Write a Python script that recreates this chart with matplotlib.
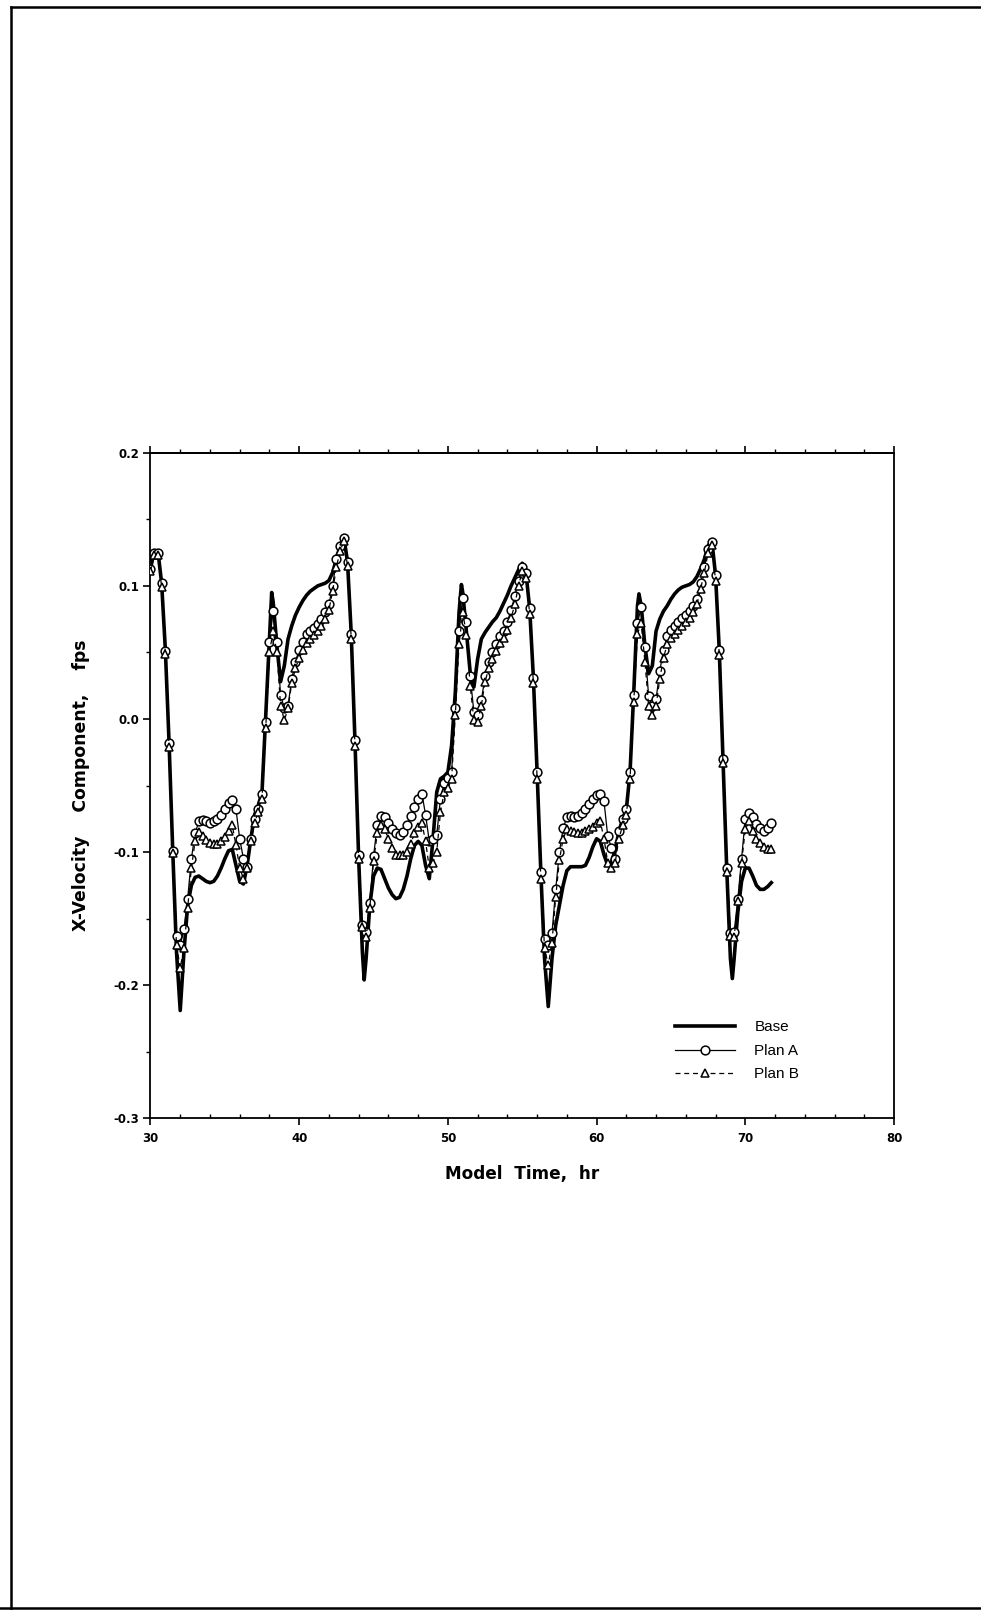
import numpy as np
import matplotlib
matplotlib.use("Agg")
import matplotlib.pyplot as plt
from matplotlib.lines import Line2D
from matplotlib.ticker import MultipleLocator

plt.rcParams['font.family'] = ['Liberation Sans', 'DejaVu Sans']

# model time, hr (one value every 15 min)
t = np.arange(30.0, 71.76, 0.25)

# X-velocity, fps, 8 values per 2 hr row
base = [
    0.113, 0.126, 0.126, 0.102, 0.052, -0.018, -0.100, -0.175,
    -0.219, -0.175, -0.140, -0.125, -0.119, -0.118, -0.120, -0.122,
    -0.123, -0.122, -0.118, -0.112, -0.105, -0.099, -0.098, -0.110,
    -0.122, -0.124, -0.110, -0.090, -0.072, -0.065, -0.055, 0.002,
    0.060, 0.088, 0.055, 0.028, 0.040, 0.060, 0.070, 0.078,
    0.084, 0.089, 0.093, 0.096, 0.098, 0.100, 0.101, 0.102,
    0.104, 0.110, 0.120, 0.130, 0.137, 0.118, 0.064, -0.016,
    -0.105, -0.175, -0.180, -0.140, -0.118, -0.112, -0.113, -0.120,
    -0.127, -0.132, -0.135, -0.134, -0.128, -0.118, -0.105, -0.095,
    -0.092, -0.095, -0.110, -0.120, -0.090, -0.055, -0.045, -0.043,
    -0.040, -0.020, 0.020, 0.080, 0.095, 0.065, 0.035, 0.024,
    0.045, 0.060, 0.065, 0.069, 0.073, 0.076, 0.081, 0.087,
    0.093, 0.100, 0.106, 0.112, 0.117, 0.110, 0.083, 0.031,
    -0.040, -0.115, -0.180, -0.216, -0.180, -0.155, -0.140, -0.125,
    -0.114, -0.111, -0.111, -0.111, -0.111, -0.110, -0.104, -0.096,
    -0.090, -0.092, -0.102, -0.110, -0.108, -0.098, -0.085, -0.075,
    -0.068, -0.040, 0.020, 0.085, 0.085, 0.055, 0.034, 0.040,
    0.066, 0.075, 0.081, 0.085, 0.090, 0.094, 0.097, 0.099,
    0.100, 0.101, 0.103, 0.107, 0.113, 0.120, 0.130, 0.134,
    0.108, 0.052, -0.030, -0.112, -0.180, -0.180, -0.145, -0.122,
    -0.112, -0.112, -0.118, -0.125, -0.128, -0.128, -0.126, -0.123,
]
# sharp turning points of the base curve that fall between samples
base_tip_t = [38.15, 44.37, 50.91, 62.85, 69.13]
base_tip_v = [0.095, -0.196, 0.101, 0.094, -0.195]

plan_a = [
    0.113, 0.125, 0.125, 0.102, 0.051, -0.018, -0.099, -0.163,
    -0.170, -0.158, -0.135, -0.105, -0.086, -0.077, -0.076, -0.077,
    -0.078, -0.077, -0.075, -0.072, -0.068, -0.063, -0.061, -0.068,
    -0.090, -0.105, -0.111, -0.090, -0.075, -0.068, -0.056, -0.002,
    0.058, 0.081, 0.058, 0.018, 0.008, 0.010, 0.030, 0.043,
    0.052, 0.058, 0.064, 0.066, 0.068, 0.071, 0.075, 0.080,
    0.086, 0.100, 0.120, 0.130, 0.136, 0.118, 0.064, -0.016,
    -0.102, -0.155, -0.160, -0.138, -0.103, -0.080, -0.073, -0.074,
    -0.078, -0.083, -0.086, -0.087, -0.085, -0.080, -0.073, -0.066,
    -0.060, -0.056, -0.072, -0.092, -0.090, -0.087, -0.060, -0.048,
    -0.044, -0.040, 0.008, 0.066, 0.091, 0.073, 0.032, 0.005,
    0.003, 0.014, 0.032, 0.043, 0.050, 0.056, 0.062, 0.066,
    0.073, 0.082, 0.092, 0.104, 0.114, 0.110, 0.083, 0.031,
    -0.040, -0.115, -0.165, -0.170, -0.161, -0.128, -0.100, -0.082,
    -0.074, -0.073, -0.074, -0.073, -0.071, -0.068, -0.064, -0.060,
    -0.057, -0.056, -0.062, -0.088, -0.097, -0.105, -0.084, -0.075,
    -0.068, -0.040, 0.018, 0.072, 0.084, 0.054, 0.017, 0.010,
    0.015, 0.036, 0.052, 0.062, 0.067, 0.070, 0.073, 0.076,
    0.078, 0.081, 0.085, 0.090, 0.102, 0.114, 0.128, 0.133,
    0.108, 0.052, -0.030, -0.112, -0.161, -0.160, -0.135, -0.105,
    -0.075, -0.071, -0.074, -0.079, -0.082, -0.084, -0.082, -0.078,
]

plan_b = [
    0.111, 0.123, 0.123, 0.099, 0.049, -0.021, -0.101, -0.170,
    -0.187, -0.172, -0.142, -0.112, -0.092, -0.085, -0.088, -0.091,
    -0.093, -0.094, -0.094, -0.092, -0.089, -0.084, -0.080, -0.095,
    -0.112, -0.120, -0.112, -0.092, -0.078, -0.070, -0.060, -0.007,
    0.050, 0.066, 0.050, 0.010, -0.001, 0.008, 0.027, 0.038,
    0.046, 0.052, 0.057, 0.060, 0.063, 0.066, 0.070, 0.075,
    0.082, 0.096, 0.114, 0.126, 0.134, 0.115, 0.060, -0.020,
    -0.105, -0.156, -0.164, -0.142, -0.107, -0.086, -0.080, -0.083,
    -0.090, -0.097, -0.102, -0.102, -0.102, -0.100, -0.094, -0.086,
    -0.081, -0.078, -0.092, -0.112, -0.108, -0.100, -0.070, -0.055,
    -0.052, -0.045, 0.003, 0.056, 0.080, 0.063, 0.025, -0.001,
    -0.002, 0.010, 0.028, 0.038, 0.045, 0.051, 0.057, 0.061,
    0.067, 0.076, 0.086, 0.100, 0.111, 0.106, 0.079, 0.027,
    -0.045, -0.120, -0.172, -0.185, -0.168, -0.134, -0.106, -0.090,
    -0.083, -0.084, -0.085, -0.086, -0.086, -0.084, -0.083, -0.081,
    -0.078, -0.077, -0.090, -0.108, -0.112, -0.108, -0.090, -0.080,
    -0.072, -0.045, 0.013, 0.064, 0.072, 0.043, 0.010, 0.003,
    0.010, 0.030, 0.046, 0.056, 0.061, 0.064, 0.067, 0.070,
    0.073, 0.076, 0.080, 0.086, 0.098, 0.110, 0.125, 0.131,
    0.104, 0.048, -0.033, -0.115, -0.163, -0.164, -0.137, -0.108,
    -0.083, -0.077, -0.084, -0.090, -0.093, -0.096, -0.098, -0.098,
]

labels = ['Base', 'Plan A', 'Plan B']

# base curve: samples plus the turning points, in time order
bt = np.concatenate([t, base_tip_t])
bv = np.concatenate([base, base_tip_v])
order = np.argsort(bt)
bt, bv = bt[order], bv[order]

fig = plt.figure(figsize=(9.81, 16.1), dpi=100)
ax = fig.add_axes([0.1534, 0.3054, 0.7579, 0.4134])

ax.plot(bt, bv, color='black', lw=2.6, solid_joinstyle='round', label=labels[0], zorder=2)
ax.plot(t, plan_a, color='black', lw=0.9, marker='o', ms=6.3, mfc='white', mec='black',
        mew=1.1, label=labels[1], zorder=3)
ax.plot(t, plan_b, color='black', lw=0.9, ls=(0, (4, 3)), marker='^', ms=5.8, mfc='white',
        mec='black', mew=1.1, label=labels[2], zorder=4)

ax.set_xlim(30, 80)
ax.set_ylim(-0.3, 0.2)
ax.xaxis.set_major_locator(MultipleLocator(10))
ax.xaxis.set_minor_locator(MultipleLocator(2))
ax.yaxis.set_major_locator(MultipleLocator(0.1))
ax.yaxis.set_minor_locator(MultipleLocator(0.05))
ax.yaxis.set_major_formatter(plt.FuncFormatter(lambda v, p: f'{v:.1f}'))

for s in ax.spines.values():
    s.set_linewidth(1.3)

ax.tick_params(axis='x', which='major', direction='out', length=5, width=1.2, pad=5)
ax.tick_params(axis='x', which='minor', direction='in', length=3, width=1.0)
ax.tick_params(axis='y', which='major', direction='out', length=5, width=1.2, pad=3)
ax.tick_params(axis='y', which='minor', direction='out', length=3, width=1.0)
for lab in ax.get_xticklabels() + ax.get_yticklabels():
    lab.set_fontfamily('DejaVu Sans')
    lab.set_fontweight('bold')
    lab.set_fontsize(8.5)

# ticks along the top edge point outward, no labels
top = ax.secondary_xaxis('top')
top.xaxis.set_major_locator(MultipleLocator(10))
top.xaxis.set_minor_locator(MultipleLocator(2))
top.tick_params(which='major', direction='out', length=5, width=1.2, labeltop=False)
top.tick_params(which='minor', direction='out', length=3, width=1.0)
top.spines['top'].set_linewidth(1.3)

ax.set_xlabel('Model  Time,  hr', fontfamily='DejaVu Sans', fontsize=12.2,
              fontweight='bold', labelpad=14)
ax.set_ylabel('X-Velocity    Component,    fps', fontfamily='DejaVu Sans', fontsize=12.4,
              fontweight='bold', labelpad=17)

ax.legend(loc='upper left', bbox_to_anchor=(0.7055, 0.147), frameon=False, fontsize=11,
          handlelength=3.9, handletextpad=1.3, labelspacing=0.62, borderpad=0,
          borderaxespad=0, numpoints=1)

# page frame of the scanned sheet
fig.add_artist(Line2D([0.011, 0.011], [0.0, 0.9956], transform=fig.transFigure, color='black', lw=1.8))
fig.add_artist(Line2D([0.011, 1.0], [0.9956, 0.9956], transform=fig.transFigure, color='black', lw=1.8))
fig.add_artist(Line2D([0.0, 1.0], [0.001, 0.001], transform=fig.transFigure, color='black', lw=1.8))

fig.savefig('out.png', dpi=100)
